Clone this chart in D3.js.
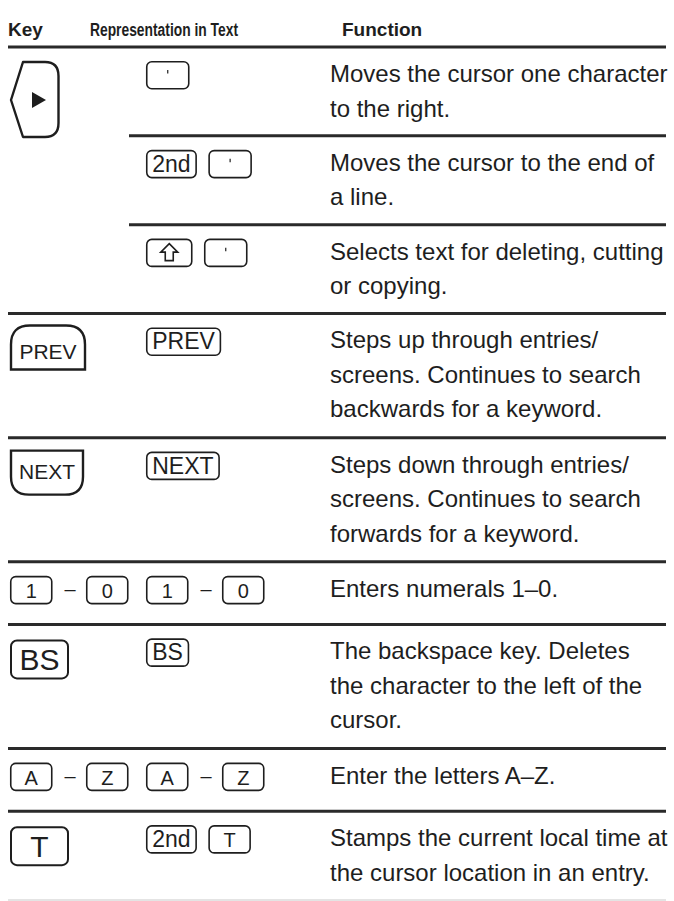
<!DOCTYPE html>
<html><head><meta charset="utf-8">
<script src="https://cdn.jsdelivr.net/npm/d3@7"></script>
<style>html,body{margin:0;padding:0;background:#fff;} svg{display:block}</style>
</head><body><div id="chart"></div>
<script>
// ---- data ----
const headers = ["Key", "Representation in Text", "Function"];
const keyIcons = ["arrowRight", null, null, "PREV", "NEXT", ["1", "–", "0"], "BS", ["A", "–", "Z"], "T"];
const repKeys = [["'"], ["2nd", "'"], ["shift", "'"], ["PREV"], ["NEXT"], ["1", "–", "0"], ["BS"], ["A", "–", "Z"], ["2nd", "T"]];
const functionLines = [
  ["Moves the cursor one character", "to the right."],
  ["Moves the cursor to the end of", "a line."],
  ["Selects text for deleting, cutting", "or copying."],
  ["Steps up through entries/", "screens. Continues to search", "backwards for a keyword."],
  ["Steps down through entries/", "screens. Continues to search", "forwards for a keyword."],
  ["Enters numerals 1–0."],
  ["The backspace key. Deletes", "the character to the left of the", "cursor."],
  ["Enter the letters A–Z."],
  ["Stamps the current local time at", "the cursor location in an entry."]
];
const groupStart = [true, false, false, true, true, true, true, true, true];

// ---- layout ----
const W = 674, H = 901;
const FONT = "'Liberation Sans', Arial, Helvetica, sans-serif";
const INK = "#1e1e1e";
const lineH = 34.5;
const rowUnits = functionLines.map(l => Math.max(62, l.length * 35 + 18));
const cum = [0];
rowUnits.forEach((u, i) => cum.push(cum[i] + u));
const y = d3.scaleLinear().domain([0, cum[cum.length - 1]]).range([47, 900]);
const x = d3.scaleOrdinal().domain(["key", "rep", "fn", "inner", "left", "right"]).range([10, 146, 330, 129, 8, 666]);

const svg = d3.select("#chart").append("svg").attr("width", W).attr("height", H)
  .style("font-family", FONT);

// header
svg.append("text").attr("x", 8).attr("y", 36).attr("font-weight", "bold").attr("font-size", 19)
  .attr("fill", INK).text(headers[0]);
svg.append("text").attr("x", 90).attr("y", 36).attr("font-weight", "bold").attr("font-size", 18)
  .attr("font-family", "'Liberation Sans Narrow', 'Arial Narrow', " + FONT)
  .attr("textLength", 148).attr("lengthAdjust", "spacingAndGlyphs")
  .attr("fill", INK).text(headers[1]);
svg.append("text").attr("x", 342).attr("y", 36).attr("font-weight", "bold").attr("font-size", 19)
  .attr("fill", INK).text(headers[2]);

// rules
svg.append("line").attr("x1", x("left")).attr("x2", x("right")).attr("y1", y(0)).attr("y2", y(0))
  .attr("stroke", "#2a2a2a").attr("stroke-width", 3);
functionLines.forEach((_, i) => {
  const yy = y(cum[i + 1]);
  const last = i === functionLines.length - 1;
  const inner = !last && !groupStart[i + 1];
  svg.append("line").attr("x1", inner ? x("inner") : x("left")).attr("x2", x("right"))
    .attr("y1", yy).attr("y2", yy)
    .attr("stroke", last ? "#e4e4e4" : "#2a2a2a").attr("stroke-width", last ? 2 : 3);
});

// function text
functionLines.forEach((lines, i) => {
  const top = y(cum[i]);
  const t = svg.append("text").attr("font-size", 24).attr("fill", INK);
  lines.forEach((ln, j) => {
    t.append("tspan").attr("x", x("fn")).attr("y", top + 35 + j * lineH).text(ln);
  });
});

// small key sequence
function keySeq(items, x0, top) {
  let cx = x0;
  items.forEach(it => {
    if (it === "–") {
      svg.append("text").attr("x", cx + 6).attr("y", top + 20).attr("text-anchor", "middle")
        .attr("font-size", 20).attr("fill", INK).text("–");
      cx += 22;
      return;
    }
    const g = svg.append("g").attr("transform", `translate(${cx},${top})`);
    const fs = it.length > 1 ? 23 : 20;
    let w = 41;
    if (it === "shift") {
      w = 45;
    } else if (it !== "'") {
      const tmp = g.append("text").attr("font-size", fs).text(it);
      const len = tmp.node().getComputedTextLength();
      tmp.remove();
      w = Math.max(41, len + 11);
    } else {
      w = 42;
    }
    g.append("rect").attr("x", 0.75).attr("y", 0.75).attr("width", w).attr("height", 27)
      .attr("rx", 5).attr("fill", "#fff").attr("stroke", INK).attr("stroke-width", 1.6);
    if (it === "shift") {
      const c = w / 2 + 0.75;
      const p = `M${c},5 L${c + 8.5},13.5 L${c + 4},13.5 L${c + 4},22 L${c - 4},22 L${c - 4},13.5 L${c - 8.5},13.5 Z`;
      g.append("path").attr("d", p).attr("fill", "none").attr("stroke", INK).attr("stroke-width", 1.6)
        .attr("stroke-linejoin", "miter");
    } else if (it === "'") {
      g.append("line").attr("x1", w / 2 + 0.75).attr("x2", w / 2 + 0.75).attr("y1", 9).attr("y2", 12.5)
        .attr("stroke", INK).attr("stroke-width", 1.2);
    } else {
      g.append("text").attr("x", w / 2 + 0.75).attr("y", 22).attr("text-anchor", "middle")
        .attr("font-size", fs).attr("fill", INK).text(it);
    }
    cx += w + 13;
  });
}

// representation column
repKeys.forEach((items, i) => keySeq(items, x("rep"), y(cum[i]) + 14));

// key column
keyIcons.forEach((k, i) => {
  if (k == null) return;
  const top = y(cum[i]);
  if (Array.isArray(k)) { keySeq(k, x("key"), top + 14); return; }
  const g = svg.append("g").attr("transform", `translate(${x("key")},${top})`);
  const sw = 2.4;
  if (k === "arrowRight") {
    g.attr("transform", `translate(${x("key")},${top + 15})`);
    g.append("path").attr("d", "M13,0 L35,0 Q48.5,0 48.5,14 L48.5,61 Q48.5,75 35,75 L13,75 L1,38 Z")
      .attr("fill", "#fff").attr("stroke", INK).attr("stroke-width", sw).attr("stroke-linejoin", "round");
    g.append("path").attr("d", "M22,30 L36,38 L22,46 Z").attr("fill", INK);
  } else if (k === "PREV") {
    g.attr("transform", `translate(${x("key")},${top + 11})`);
    g.append("path").attr("d", "M1,45 L1,20 Q1,1 20,1 L56,1 Q75,1 75,20 L75,45 Z")
      .attr("fill", "#fff").attr("stroke", INK).attr("stroke-width", sw);
    g.append("text").attr("x", 38).attr("y", 35).attr("text-anchor", "middle").attr("font-size", 21)
      .attr("fill", INK).text(k);
  } else if (k === "NEXT") {
    g.attr("transform", `translate(${x("key")},${top + 12})`);
    g.append("path").attr("d", "M1,1 L73,1 L73,27 Q73,45 55,45 L19,45 Q1,45 1,27 Z")
      .attr("fill", "#fff").attr("stroke", INK).attr("stroke-width", sw);
    g.append("text").attr("x", 37).attr("y", 29).attr("text-anchor", "middle").attr("font-size", 21)
      .attr("fill", INK).text(k);
  } else {
    g.attr("transform", `translate(${x("key")},${top + 15})`);
    const w = 58, h = 38;
    g.append("rect").attr("x", 1).attr("y", 1).attr("width", w - 1).attr("height", h)
      .attr("rx", 6).attr("fill", "#fff").attr("stroke", INK).attr("stroke-width", 2);
    g.append("text").attr("x", w / 2 + 0.5).attr("y", 31).attr("text-anchor", "middle").attr("font-size", 30)
      .attr("fill", INK).text(k);
  }
});
</script>
</body></html>
